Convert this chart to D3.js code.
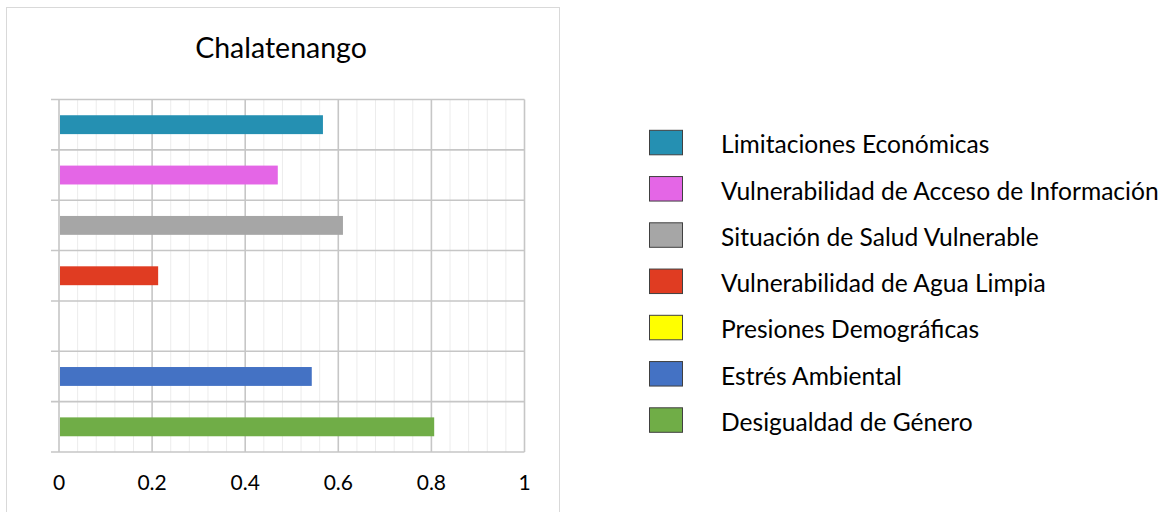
<!DOCTYPE html>
<html><head><meta charset="utf-8">
<script src="https://cdn.jsdelivr.net/npm/d3@7/dist/d3.min.js"></script>
<style>html,body{margin:0;padding:0;background:#fff;}svg{display:block;}</style>
</head><body>
<svg id="chart" width="1168" height="512"></svg>
<script>
const title = "Chalatenango";
const categories = ["Limitaciones Económicas","Vulnerabilidad de Acceso de Información","Situación de Salud Vulnerable","Vulnerabilidad de Agua Limpia","Presiones Demográficas","Estrés Ambiental","Desigualdad de Género"];
const values = [0.567, 0.470, 0.610, 0.213, 0, 0.543, 0.806];
const colors = ["#2590b2","#e466e6","#a6a6a6","#e03c22","#ffff00","#4472c4","#70ad47"];
const xTicks = [0, 0.2, 0.4, 0.6, 0.8, 1];
const xTickLabels = ["0","0.2","0.4","0.6","0.8","1"];

const FONT = "Lato, 'Open Sans', sans-serif";
const svg = d3.select("#chart");

// chart frame
svg.append("rect").attr("x",6.5).attr("y",7.5).attr("width",553).attr("height",510)
  .attr("fill","#fff").attr("stroke","#d9d9d9").attr("stroke-width",1);

svg.append("text").attr("x",281).attr("y",58).attr("text-anchor","middle")
  .attr("font-family",FONT).attr("font-size",28.5).attr("fill","#000").text(title);

const x = d3.scaleLinear().domain([0,1]).range([59,524.5]);
const y = d3.scaleBand().domain(categories).range([99.5,452]).padding(0);
const plotTop = y.range()[0], plotBot = y.range()[1];

// minor gridlines
const minor = d3.range(0,1.0001,0.04).filter(v => Math.abs(v*5 - Math.round(v*5)) > 1e-6);
svg.append("g").selectAll("line").data(minor).join("line")
  .attr("x1",d=>x(d)).attr("x2",d=>x(d)).attr("y1",plotTop).attr("y2",plotBot)
  .attr("stroke","#ececec").attr("stroke-width",1);

// major vertical gridlines
svg.append("g").selectAll("line").data(xTicks).join("line")
  .attr("x1",d=>x(d)).attr("x2",d=>x(d)).attr("y1",plotTop).attr("y2",plotBot)
  .attr("stroke","#c6c6c6").attr("stroke-width",1.6);

// horizontal category boundaries + outward ticks
const bounds = categories.map(c=>y(c)).concat([plotBot]);
svg.append("g").selectAll("line").data(bounds).join("line")
  .attr("x1",51).attr("x2",x(1)).attr("y1",d=>d).attr("y2",d=>d)
  .attr("stroke","#c6c6c6").attr("stroke-width",1.6);

// bars
const barFrac = 0.375;
svg.append("g").selectAll("rect").data(categories).join("rect")
  .attr("x",x(0)+1)
  .attr("y",c=>y(c)+y.bandwidth()*(1-barFrac)/2)
  .attr("height",y.bandwidth()*barFrac)
  .attr("width",(c,i)=>Math.max(0,x(values[i])-x(0)-1))
  .attr("fill",(c,i)=>colors[i]);

// x axis labels
svg.append("g").selectAll("text").data(xTicks).join("text")
  .attr("x",d=>x(d)).attr("y",490).attr("text-anchor","middle")
  .attr("font-family",FONT).attr("font-size",21).attr("fill","#000")
  .text((d,i)=>xTickLabels[i]);

// legend
const legY = d3.scalePoint().domain(categories).range([142.3,419.8]);
const leg = svg.append("g").selectAll("g").data(categories).join("g")
  .attr("transform",c=>`translate(0,${legY(c)})`);
leg.append("rect").attr("x",649.5).attr("y",-12).attr("width",33).attr("height",24.5)
  .attr("fill",(c,i)=>colors[i]).attr("stroke","#404040").attr("stroke-width",1);
leg.append("text").attr("x",721).attr("y",11)
  .attr("font-family",FONT).attr("font-size",24.6).attr("fill","#000").text(c=>c);
</script>
</body></html>
